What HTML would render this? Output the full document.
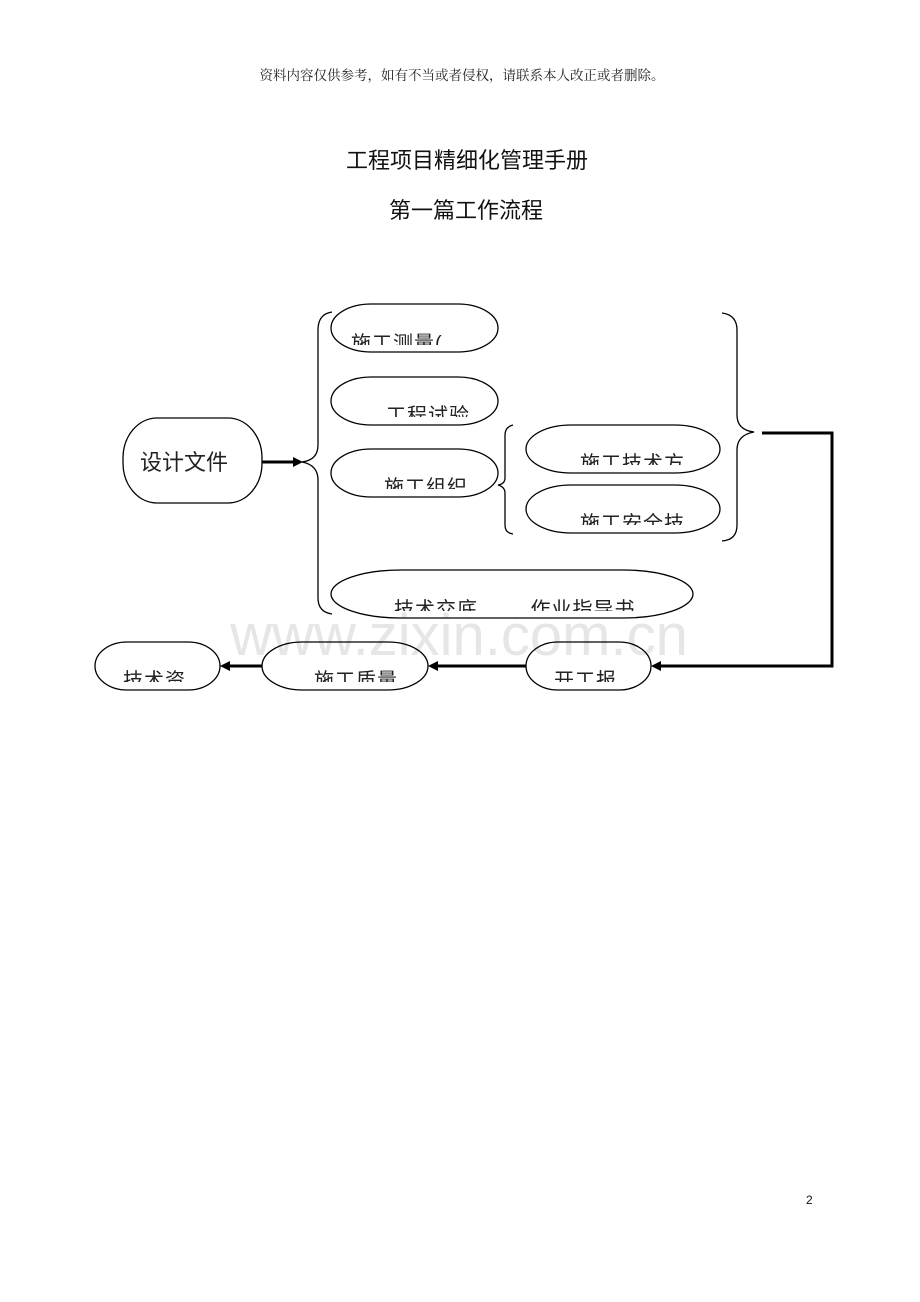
<!DOCTYPE html>
<html><head><meta charset="utf-8"><style>
html,body{margin:0;padding:0;background:#fff;}
svg{display:block;}
</style></head><body>
<svg width="920" height="1302" viewBox="0 0 920 1302" xmlns="http://www.w3.org/2000/svg">
<defs>
<clipPath id="c1"><rect x="0" y="0" width="920" height="345"/></clipPath>
<clipPath id="c2"><rect x="0" y="0" width="920" height="417"/></clipPath>
<clipPath id="c3"><rect x="0" y="0" width="920" height="489"/></clipPath>
<clipPath id="c4"><rect x="0" y="0" width="920" height="465"/></clipPath>
<clipPath id="c5"><rect x="0" y="0" width="920" height="525"/></clipPath>
<clipPath id="c6"><rect x="0" y="0" width="920" height="611"/></clipPath>
<clipPath id="c7"><rect x="0" y="0" width="920" height="682"/></clipPath>
</defs>
<g font-family="'Liberation Serif','Noto Serif CJK SC',serif" fill="#222">
<text x="462" y="80" font-size="13.5" text-anchor="middle">资料内容仅供参考，如有不当或者侵权，请联系本人改正或者删除。</text>
</g>
<g font-family="'Liberation Sans','Noto Sans CJK SC',sans-serif" fill="#111">
<text x="467" y="168" font-size="22" text-anchor="middle">工程项目精细化管理手册</text>
<text x="466" y="218" font-size="22" text-anchor="middle">第一篇工作流程</text>
<text x="806" y="1204" font-size="12">2</text>
</g>
<text x="459" y="655" font-family="'Liberation Sans',sans-serif" font-size="58" fill="#e6e6e6" text-anchor="middle">www.zixin.com.cn</text>
<g fill="none" stroke="#000" stroke-width="1.3">
<rect x="123" y="418" width="139" height="85" rx="34" ry="40"/>
<rect x="331" y="304" width="167" height="48" rx="40" ry="24"/>
<rect x="331" y="377" width="167" height="48" rx="40" ry="24"/>
<rect x="331" y="449" width="167" height="48" rx="40" ry="24"/>
<rect x="526" y="425" width="194" height="48" rx="45" ry="24"/>
<rect x="526" y="485" width="194" height="48" rx="45" ry="24"/>
<rect x="331" y="570" width="362" height="48" rx="70" ry="24"/>
<rect x="95" y="642" width="125" height="48" rx="32" ry="24"/>
<rect x="262" y="642" width="166" height="48" rx="40" ry="24"/>
<rect x="526" y="642" width="125" height="48" rx="32" ry="24"/>
<path d="M332 312 Q318 314 318 330 L318 445 Q318 460 302 462 Q318 465 318 480 L318 598 Q318 612 332 614"/>
<path d="M513 425 Q505 427 505 435 L505 478 Q505 484 498 485 Q505 487 505 493 L505 525 Q505 533 513 534"/>
<path d="M722 313 Q737 315 737 330 L737 415 Q737 430 754 432 Q737 435 737 450 L737 525 Q737 540 722 541"/>
</g>
<g fill="none" stroke="#000" stroke-width="3">
<line x1="262" y1="462" x2="294" y2="462"/>
<polyline points="762,433 832,433 832,666 660,666"/>
<line x1="526" y1="666" x2="437" y2="666"/>
<line x1="262" y1="666" x2="229" y2="666"/>
</g>
<g fill="#000">
<polygon points="303,462 293,457 293,467"/>
<polygon points="651,666 661,661 661,671"/>
<polygon points="428,666 438,661 438,671"/>
<polygon points="220,666 230,661 230,671"/>
</g>
<g font-family="'Liberation Sans','Noto Sans CJK SC',sans-serif" fill="#222">
<text x="140" y="470" font-size="22">设计文件</text>
<text x="351" y="350" font-size="20" letter-spacing="1" clip-path="url(#c1)">施工测量(</text>
<text x="386" y="422" font-size="20" letter-spacing="1" clip-path="url(#c2)">工程试验</text>
<text x="384" y="494" font-size="20" letter-spacing="1" clip-path="url(#c3)">施工组织</text>
<text x="580" y="470" font-size="20" letter-spacing="1" clip-path="url(#c4)">施工技术方</text>
<text x="580" y="530" font-size="20" letter-spacing="1" clip-path="url(#c5)">施工安全技</text>
<text x="394" y="616" font-size="20" letter-spacing="1" clip-path="url(#c6)" xml:space="preserve">技术交底        作业指导书</text>
<text x="123" y="687" font-size="20" letter-spacing="1" clip-path="url(#c7)">技术资</text>
<text x="314" y="687" font-size="20" letter-spacing="1" clip-path="url(#c7)">施工质量</text>
<text x="554" y="687" font-size="20" letter-spacing="1" clip-path="url(#c7)">开工报</text>
</g>
</svg>
</body></html>
